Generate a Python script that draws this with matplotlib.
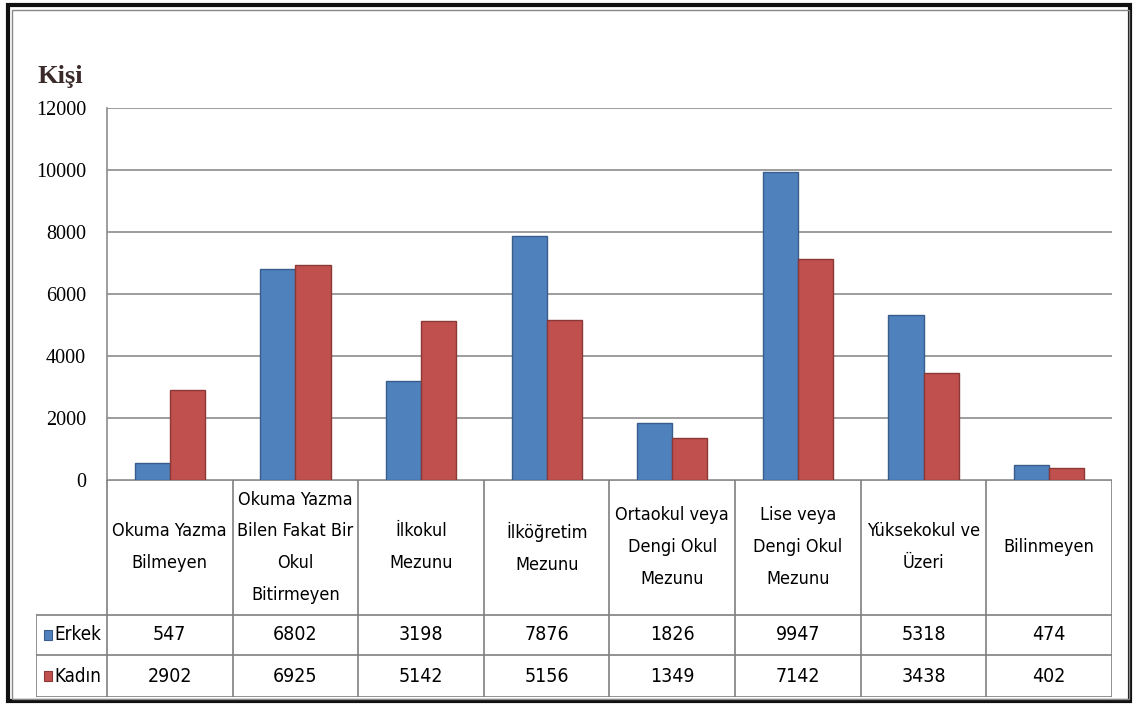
import matplotlib.pyplot as plt
from matplotlib.patches import Rectangle
from matplotlib.lines import Line2D

categories = ['Okuma Yazma\nBilmeyen', 'Okuma Yazma\nBilen Fakat Bir\nOkul\nBitirmeyen',
              'İlkokul\nMezunu', 'İlköğretim\nMezunu', 'Ortaokul veya\nDengi Okul\nMezunu',
              'Lise veya\nDengi Okul\nMezunu', 'Yüksekokul ve\nÜzeri', 'Bilinmeyen']
erkek = [547, 6802, 3198, 7876, 1826, 9947, 5318, 474]
kadin = [2902, 6925, 5142, 5156, 1349, 7142, 3438, 402]
series_names = ['Erkek', 'Kadın']
yticks = [0, 2000, 4000, 6000, 8000, 10000, 12000]

blue, blue_edge = '#4F81BD', '#385D8A'
red, red_edge = '#C0504D', '#8C3836'
grid_c = '#8C8C8C'
narrow = dict(family='DejaVu Sans', fontstretch='condensed')

W, H = 1133, 704
fig = plt.figure(figsize=(W / 100, H / 100), dpi=100)

def fx(px):
    return px / W

def fy(py):
    return 1 - py / H

# main plot area
x0, x1, ytop, yzero = 107, 1112, 108, 480
ax = fig.add_axes([fx(x0), fy(yzero), fx(x1 - x0), (yzero - ytop) / H])
n = len(categories)
pos = [i + 0.5 for i in range(n)]
bw = 0.28
ax.bar([p - bw / 2 for p in pos], erkek, bw, color=blue, edgecolor=blue_edge, linewidth=1, zorder=3)
ax.bar([p + bw / 2 for p in pos], kadin, bw, color=red, edgecolor=red_edge, linewidth=1, zorder=3)
ax.set_xlim(0, n)
ax.set_ylim(0, 12000)
ax.set_yticks(yticks)
ax.set_yticklabels([str(v) for v in yticks], family='Liberation Serif', fontsize=14.5)
ax.tick_params(axis='y', length=0, pad=15)
ax.set_xticks([])
ax.yaxis.grid(True, color=grid_c, linewidth=1.2, zorder=0)
for s in ['top', 'right', 'bottom']:
    ax.spines[s].set_visible(False)
ax.spines['left'].set_color(grid_c)
ax.spines['left'].set_linewidth(1.2)

fig.text(fx(37), fy(77), 'Kişi', family='Liberation Serif', fontweight='bold',
         fontsize=19, color='#3a2a2a', va='center', ha='left')

# data table below the plot
tl, tb = 36, 697
lab_w = (x0 - tl) / ((x1 - x0) / n)
tax = fig.add_axes([fx(tl), fy(tb), fx(x1 - tl), (tb - yzero) / H])
tax.set_xlim(-lab_w, n)
tax.set_ylim(tb - yzero, 0)
tax.axis('off')
hdr, r1, r2 = 135, 175, 217
lc = '#7F7F7F'
lw = 1.2
tax.add_line(Line2D([0, n], [0, 0], color=lc, lw=lw))
for y in [hdr, r1, r2]:
    tax.add_line(Line2D([-lab_w, n], [y, y], color=lc, lw=lw))
for i in range(n + 1):
    tax.add_line(Line2D([i, i], [0, r2], color=lc, lw=lw))
tax.add_line(Line2D([-lab_w, -lab_w], [hdr, r2], color=lc, lw=lw))

for i, c in enumerate(categories):
    tax.text(i + 0.5, hdr / 2, c, ha='center', va='center', fontsize=13,
             linespacing=2.0, **narrow)
    tax.text(i + 0.5, (hdr + r1) / 2, str(erkek[i]), ha='center', va='center',
             fontsize=14, **narrow)
    tax.text(i + 0.5, (r1 + r2) / 2, str(kadin[i]), ha='center', va='center',
             fontsize=14, **narrow)

for (ya, yb), name, col, ec in [((hdr, r1), series_names[0], blue, blue_edge),
                                ((r1, r2), series_names[1], red, red_edge)]:
    yc = (ya + yb) / 2
    tax.add_patch(Rectangle((-lab_w + 0.06, yc - 5), 0.065, 10, facecolor=col, edgecolor=ec, lw=0.8))
    tax.text(-lab_w + 0.15, yc, name, ha='left', va='center', fontsize=13.5, **narrow)

# outer frame
fig.patches.append(Rectangle((fx(8), fy(701)), fx(1122), (701 - 5) / H, transform=fig.transFigure,
                             fill=False, edgecolor='#111111', lw=3))
fig.patches.append(Rectangle((fx(12), fy(699)), fx(1117), (699 - 10) / H, transform=fig.transFigure,
                             fill=False, edgecolor='#888888', lw=1))

fig.savefig('out.png', dpi=100)
